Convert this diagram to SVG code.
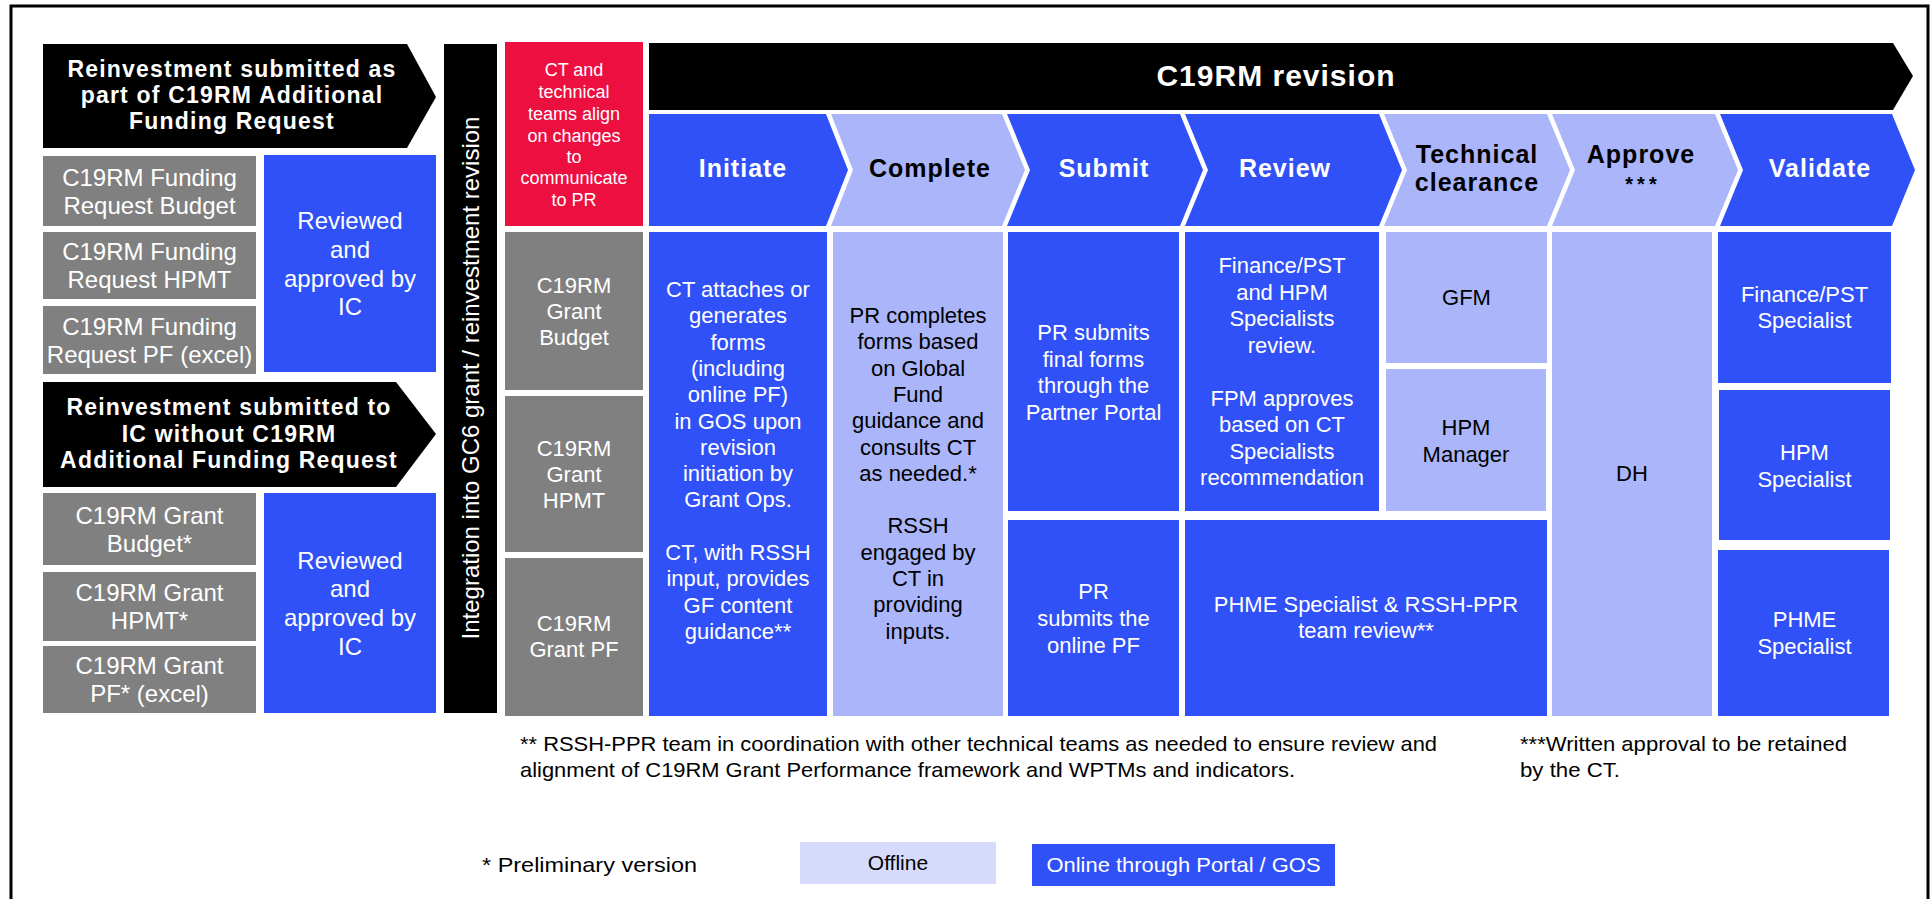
<svg xmlns="http://www.w3.org/2000/svg" width="1930" height="899" viewBox="0 0 1930 899">
<style>
text{font-family:"Liberation Sans",Arial,sans-serif;text-anchor:middle}
.blue{fill:#3050F8}
.light{fill:#AAB5FA}
.gray{fill:#808080}
.red{fill:#EC0F3F}
.blk{fill:#000}
.w24{fill:#fff;font-size:24px}
.w22{fill:#fff;font-size:22px}
.k22{fill:#000;font-size:22px}
.w18{fill:#fff;font-size:18px}
.hw{fill:#fff;font-size:23px;font-weight:bold;letter-spacing:1.2px}
.hdw{fill:#fff;font-size:25px;font-weight:bold;letter-spacing:1px}
.hdk{fill:#000;font-size:25px;font-weight:bold;letter-spacing:1px}
.foot{fill:#000;font-size:21px;text-anchor:start}
</style>
<rect x="11" y="6" width="1917" height="1000" fill="#fff" stroke="#000" stroke-width="3"/>

<g id="arrow-c19rm-afr">
<polygon class="blk" points="43,44 407,44 436,97 407,148 43,148"/>
<text class="hw"><tspan x="232" y="77">Reinvestment submitted as</tspan><tspan x="232" y="103">part of C19RM Additional</tspan><tspan x="232" y="129">Funding Request</tspan></text>
</g>
<g id="fr-budget"><rect class="gray" x="43" y="156" width="213" height="70"/><text class="w24"><tspan x="149.5" y="185.5">C19RM Funding</tspan><tspan x="149.5" y="213.5">Request Budget</tspan></text></g>
<g id="fr-hpmt"><rect class="gray" x="43" y="232" width="213" height="67"/><text class="w24"><tspan x="149.5" y="260">C19RM Funding</tspan><tspan x="149.5" y="288">Request HPMT</tspan></text></g>
<g id="fr-pf"><rect class="gray" x="43" y="306" width="213" height="68"/><text class="w24"><tspan x="149.5" y="334.5">C19RM Funding</tspan><tspan x="149.5" y="362.5">Request PF (excel)</tspan></text></g>
<g id="ic-approval-1"><rect class="blue" x="264" y="155" width="172" height="217"/><text class="w24"><tspan x="350" y="229">Reviewed</tspan><tspan x="350" y="258">and</tspan><tspan x="350" y="287">approved by</tspan><tspan x="350" y="315">IC</tspan></text></g>

<g id="arrow-ic-without">
<polygon class="blk" points="43,382 396,382 436,434 396,487 43,487"/>
<text class="hw"><tspan x="229" y="415">Reinvestment submitted to</tspan><tspan x="229" y="442">IC without C19RM</tspan><tspan x="229" y="468">Additional Funding Request</tspan></text>
</g>
<g id="grant-budget-star"><rect class="gray" x="43" y="493" width="213" height="72"/><text class="w24"><tspan x="149.5" y="523.5">C19RM Grant</tspan><tspan x="149.5" y="551.5">Budget*</tspan></text></g>
<g id="grant-hpmt-star"><rect class="gray" x="43" y="572" width="213" height="69"/><text class="w24"><tspan x="149.5" y="601">C19RM Grant</tspan><tspan x="149.5" y="629">HPMT*</tspan></text></g>
<g id="grant-pf-star"><rect class="gray" x="43" y="646" width="213" height="67"/><text class="w24"><tspan x="149.5" y="674">C19RM Grant</tspan><tspan x="149.5" y="702">PF* (excel)</tspan></text></g>
<g id="ic-approval-2"><rect class="blue" x="264" y="493" width="172" height="220"/><text class="w24"><tspan x="350" y="568.5">Reviewed</tspan><tspan x="350" y="597">and</tspan><tspan x="350" y="626">approved by</tspan><tspan x="350" y="654.5">IC</tspan></text></g>

<g id="integration-bar"><rect class="blk" x="444" y="44" width="53" height="669"/><text class="w24" transform="translate(479,378) rotate(-90)">Integration into GC6 grant / reinvestment revision</text></g>

<g id="ct-align"><rect class="red" x="505" y="42" width="138" height="184"/><text class="w18"><tspan x="574" y="76">CT and</tspan><tspan x="574" y="98">technical</tspan><tspan x="574" y="120">teams align</tspan><tspan x="574" y="142">on changes</tspan><tspan x="574" y="163">to</tspan><tspan x="574" y="184">communicate</tspan><tspan x="574" y="206">to PR</tspan></text></g>
<g id="grant-budget"><rect class="gray" x="505" y="232" width="138" height="158"/><text class="w22"><tspan x="574" y="293">C19RM</tspan><tspan x="574" y="319">Grant</tspan><tspan x="574" y="345">Budget</tspan></text></g>
<g id="grant-hpmt"><rect class="gray" x="505" y="396" width="138" height="156"/><text class="w22"><tspan x="574" y="456">C19RM</tspan><tspan x="574" y="482">Grant</tspan><tspan x="574" y="508">HPMT</tspan></text></g>
<g id="grant-pf"><rect class="gray" x="505" y="558" width="138" height="158"/><text class="w22"><tspan x="574" y="631">C19RM</tspan><tspan x="574" y="657">Grant PF</tspan></text></g>

<g id="banner"><polygon class="blk" points="649,43 1893,43 1913,76 1893,110 649,110"/><text style="fill:#fff;font-size:30px;font-weight:bold;letter-spacing:1px" x="1276" y="86">C19RM revision</text></g>

<g id="step-initiate"><polygon class="blue" points="649,114 826,114 848,170 826,226 649,226"/><text class="hdw" x="743" y="177">Initiate</text></g>
<g id="step-complete"><polygon class="light" points="831,114 1002,114 1025,170 1002,226 831,226 853,170"/><text class="hdk" x="930" y="177">Complete</text></g>
<g id="step-submit"><polygon class="blue" points="1007,114 1180,114 1203,170 1180,226 1007,226 1030,170"/><text class="hdw" x="1104" y="177">Submit</text></g>
<g id="step-review"><polygon class="blue" points="1185,114 1379,114 1402,170 1379,226 1185,226 1208,170"/><text class="hdw" x="1285" y="177">Review</text></g>
<g id="step-technical"><polygon class="light" points="1384,114 1547,114 1570,170 1547,226 1384,226 1407,170"/><text class="hdk"><tspan x="1477" y="163">Technical</tspan><tspan x="1477" y="191">clearance</tspan></text></g>
<g id="step-approve"><polygon class="light" points="1552,114 1715,114 1738,170 1715,226 1552,226 1575,170"/><text class="hdk"><tspan x="1641" y="163">Approve</tspan></text><text style="fill:#000;font-size:20px;font-weight:bold;letter-spacing:4px" x="1643" y="191">***</text></g>
<g id="step-validate"><polygon class="blue" points="1720,114 1892,114 1915,170 1892,226 1720,226 1743,170"/><text class="hdw" x="1820" y="177">Validate</text></g>

<g id="initiate-detail"><rect class="blue" x="649" y="232" width="178" height="484"/><text class="w22"><tspan x="738" y="297">CT attaches or</tspan><tspan x="738" y="323.3">generates</tspan><tspan x="738" y="349.6">forms</tspan><tspan x="738" y="375.9">(including</tspan><tspan x="738" y="402.2">online PF)</tspan><tspan x="738" y="428.5">in GOS upon</tspan><tspan x="738" y="454.8">revision</tspan><tspan x="738" y="481.1">initiation by</tspan><tspan x="738" y="507.4">Grant Ops.</tspan><tspan x="738" y="560">CT, with RSSH</tspan><tspan x="738" y="586.3">input, provides</tspan><tspan x="738" y="612.6">GF content</tspan><tspan x="738" y="638.9">guidance**</tspan></text></g>
<g id="complete-detail"><rect class="light" x="833" y="232" width="170" height="484"/><text class="k22"><tspan x="918" y="323">PR completes</tspan><tspan x="918" y="349.3">forms based</tspan><tspan x="918" y="375.6">on Global</tspan><tspan x="918" y="401.9">Fund</tspan><tspan x="918" y="428.2">guidance and</tspan><tspan x="918" y="454.5">consults CT</tspan><tspan x="918" y="480.8">as needed.*</tspan><tspan x="918" y="533.4">RSSH</tspan><tspan x="918" y="559.7">engaged by</tspan><tspan x="918" y="586">CT in</tspan><tspan x="918" y="612.3">providing</tspan><tspan x="918" y="638.6">inputs.</tspan></text></g>
<g id="submit-forms"><rect class="blue" x="1008" y="232" width="171" height="279"/><text class="w22"><tspan x="1093.5" y="340">PR submits</tspan><tspan x="1093.5" y="366.5">final forms</tspan><tspan x="1093.5" y="393">through the</tspan><tspan x="1093.5" y="419.5">Partner Portal</tspan></text></g>
<g id="submit-pf"><rect class="blue" x="1008" y="520" width="171" height="196"/><text class="w22"><tspan x="1093.5" y="599">PR</tspan><tspan x="1093.5" y="626">submits the</tspan><tspan x="1093.5" y="653">online PF</tspan></text></g>
<g id="review-finance"><rect class="blue" x="1185" y="232" width="194" height="279"/><text class="w22"><tspan x="1282" y="273">Finance/PST</tspan><tspan x="1282" y="299.5">and HPM</tspan><tspan x="1282" y="326">Specialists</tspan><tspan x="1282" y="352.5">review.</tspan><tspan x="1282" y="405.5">FPM approves</tspan><tspan x="1282" y="432">based on CT</tspan><tspan x="1282" y="458.5">Specialists</tspan><tspan x="1282" y="485">recommendation</tspan></text></g>
<g id="gfm"><rect class="light" x="1386" y="232" width="161" height="131"/><text class="k22" x="1466.5" y="305">GFM</text></g>
<g id="hpm-manager"><rect class="light" x="1386" y="369" width="160" height="142"/><text class="k22"><tspan x="1466" y="435">HPM</tspan><tspan x="1466" y="462">Manager</tspan></text></g>
<g id="phme-rssh"><rect class="blue" x="1185" y="520" width="362" height="196"/><text class="w22"><tspan x="1366" y="612">PHME Specialist &amp; RSSH-PPR</tspan><tspan x="1366" y="638">team review**</tspan></text></g>
<g id="dh"><rect class="light" x="1552" y="232" width="160" height="484"/><text class="k22" x="1632" y="481">DH</text></g>
<g id="validate-finance"><rect class="blue" x="1718" y="232" width="173" height="151"/><text class="w22"><tspan x="1804.5" y="302">Finance/PST</tspan><tspan x="1804.5" y="328">Specialist</tspan></text></g>
<g id="validate-hpm"><rect class="blue" x="1719" y="390" width="171" height="150"/><text class="w22"><tspan x="1804.5" y="460">HPM</tspan><tspan x="1804.5" y="487">Specialist</tspan></text></g>
<g id="validate-phme"><rect class="blue" x="1718" y="550" width="171" height="166"/><text class="w22"><tspan x="1804.5" y="627">PHME</tspan><tspan x="1804.5" y="654">Specialist</tspan></text></g>

<g id="connectors"></g>

<g id="notes">
<text class="foot" x="520" y="751" textLength="917" lengthAdjust="spacingAndGlyphs">** RSSH-PPR team in coordination with other technical teams as needed to ensure review and</text>
<text class="foot" x="520" y="777" textLength="775" lengthAdjust="spacingAndGlyphs">alignment of C19RM Grant Performance framework and WPTMs and indicators.</text>
<text class="foot" x="1520" y="751" textLength="327" lengthAdjust="spacingAndGlyphs">***Written approval to be retained</text>
<text class="foot" x="1520" y="777" textLength="100" lengthAdjust="spacingAndGlyphs">by the CT.</text>
<text class="foot" x="482" y="872" textLength="215" lengthAdjust="spacingAndGlyphs">* Preliminary version</text>
</g>
<g id="legend-offline"><rect x="800" y="842" width="196" height="42" fill="#D6DBFC"/><text style="fill:#000;font-size:21px" x="898" y="870">Offline</text></g>
<g id="legend-online"><rect class="blue" x="1032" y="844" width="303" height="42"/><text style="fill:#fff;font-size:21px" x="1183.5" y="872" textLength="274" lengthAdjust="spacingAndGlyphs">Online through Portal / GOS</text></g>
</svg>
